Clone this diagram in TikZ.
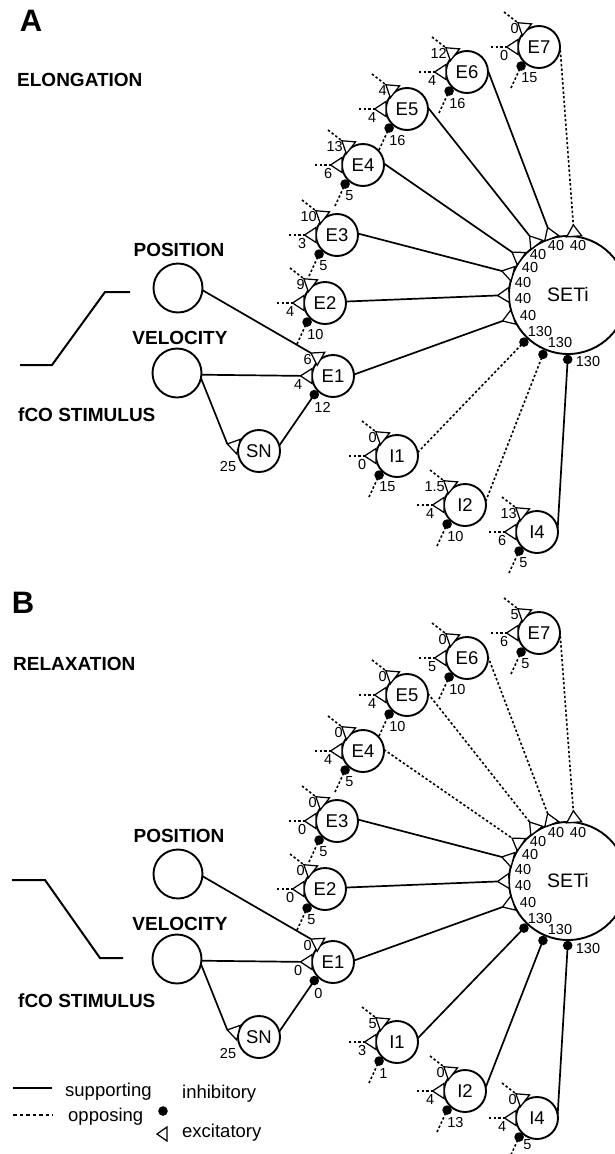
\documentclass[tikz,border=0pt]{standalone}
\usepackage{fontspec}
\setmainfont{Liberation Sans}
\usetikzlibrary{calc}
\tikzset{
  neuron/.style={circle, draw, line width=1.9pt, minimum size=42pt, inner sep=0pt, outer sep=0pt, font=\fontsize{18.5}{18.5}\selectfont},
  bign/.style={circle, draw, line width=1.9pt, minimum size=49pt, inner sep=0pt, outer sep=0pt},
  seti/.style={circle, draw, line width=1.9pt, minimum size=118pt, inner sep=0pt, outer sep=0pt, font=\fontsize{19.5}{19.5}\selectfont},
  supp/.style={line width=1.7pt},
  opp/.style={line width=1.6pt, dash pattern=on 2.4pt off 2.2pt},
  legdash/.style={line width=1.4pt, dash pattern=on 3.5pt off 3pt},
  tri/.style={draw, fill=white, line width=1.25pt, line join=miter},
  num/.style={font=\fontsize{14.5}{14.5}\selectfont, inner sep=0pt},
  heading/.style={font=\bfseries\fontsize{19}{19}\selectfont, inner sep=0pt},
  legtext/.style={font=\fontsize{18.5}{18.5}\selectfont, inner sep=0pt},
  panellab/.style={font=\bfseries\fontsize{31}{31}\selectfont, inner sep=0pt},
  trace/.style={line width=2pt, line join=miter},
}
\newcommand\dotoff{12}
\newcommand\dotoffx{0}
% excitatory synapse: name, base point, direction point
\newcommand\excsyn[3]{%
  \coordinate (#1-b) at #2;
  \coordinate (#1) at ($(#1-b)!11.5pt!#3$);
  \draw[tri] ($(#1-b)!7.5pt!90:#3$) -- (#1) -- ($(#1-b)!7.5pt!-90:#3$) -- cycle;}
% standard inputs of a small neuron: node, top, left, dot labels
\newcommand\stdsyn[4]{%
  \coordinate (#1-ts) at ($(#1)+(-35,-35)$);
  \coordinate (#1-ls) at ($(#1)+(-48,0)$);
  \coordinate (#1-ds) at ($(#1)+(-28,41)$);
  \excsyn{#1-t}{(#1.125)}{(#1-ts)}
  \draw[opp] (#1-ts) -- (#1-t);
  \excsyn{#1-l}{(#1.180)}{(#1-ls)}
  \draw[opp] (#1-ls) -- (#1-l);
  \coordinate (#1-d) at ($(#1.222)!5.5pt!(#1-ds)$);
  \draw[opp] (#1-ds) -- (#1-d);
  \fill (#1-d) circle (4.8pt);
  \node[num,anchor=east] (#1-tn) at ($(#1-t)+(1,6)$) {#2};
  \node[num,anchor=north east] (#1-ln) at ($(#1-l)+(2,3)$) {#3};
  \node[num,anchor=west] (#1-dn) at ($(#1-d)+(\dotoffx,\dotoff)$) {#4};}
% inputs of E1 and SN: prefix, top, left, dot labels
\newcommand\eonesyn[4]{%
  \excsyn{#1E1-t}{(#1E1.125)}{(#1POS.-5)}
  \draw[supp] (#1POS.-5) -- (#1E1-t);
  \excsyn{#1E1-l}{(#1E1.180)}{(#1VEL.-4)}
  \draw[supp] (#1VEL.-4) -- (#1E1-l);
  \coordinate (#1E1-d) at ($(#1E1.222)!5.5pt!(#1SN.15)$);
  \draw[supp] (#1SN.15) -- (#1E1-d);
  \fill (#1E1-d) circle (4.8pt);
  \node[num,anchor=east] (#1E1-tn) at ($(#1E1-t)+(1,6)$) {#2};
  \node[num,anchor=north east] (#1E1-ln) at ($(#1E1-l)+(2,3)$) {#3};
  \node[num,anchor=west] (#1E1-dn) at ($(#1E1-d)+(0,13)$) {#4};
  \coordinate (#1SN-src) at ($(#1SN)+(-60,-14)$);
  \excsyn{#1SN-l}{(#1SN.168)}{(#1SN-src)}
  \draw[supp] (#1VEL.-12) -- (#1SN-l);
  \node[num] (#1SN-ln) at ($(#1SN)+(-31,16)$) {25};}
% excitatory synapse onto SETi: prefix, source, angle, style, label position
\newcommand\setexc[5]{%
  \excsyn{#1SETi-#2}{(#1SETi.#3)}{(#1#2.4)}
  \draw[#4] (#1#2.4) -- (#1SETi-#2);
  \node[num] (#1SETi-#2n) at #5 {40};}
% inhibitory synapse onto SETi: prefix, source, angle, style, label position
\newcommand\setinh[5]{%
  \coordinate (#1SETi-#2) at ($(#1SETi.#3)!5.5pt!(#1#2.10)$);
  \draw[#4] (#1#2.10) -- (#1SETi-#2);
  \fill (#1SETi-#2) circle (4.8pt);
  \node[num] (#1SETi-#2n) at #5 {130};}
\newcommand\netnodes[1]{%
  \node[bign] (#1POS) at (178,288) {};
  \node[bign] (#1VEL) at (177,373) {};
  \node[neuron] (#1SN) at (259,451) {SN};
  \node[neuron] (#1E1) at (333,376) {E1};
  \node[neuron] (#1E2) at (325,303) {E2};
  \node[neuron] (#1E3) at (337,235) {E3};
  \node[neuron] (#1E4) at (363,165) {E4};
  \node[neuron] (#1E5) at (407,109) {E5};
  \node[neuron] (#1E6) at (467,72) {E6};
  \node[neuron] (#1E7) at (539,47) {E7};
  \node[neuron] (#1I1) at (397,456) {I1};
  \node[neuron] (#1I2) at (465,505) {I2};
  \node[neuron] (#1I4) at (537,532) {I4};
  \node[seti] (#1SETi) at (568,295) {SETi};
  \node[heading] (#1plab) at (179,250) {POSITION};
  \node[heading] (#1vlab) at (180,338) {VELOCITY};
  \node[heading,anchor=west] (#1slab) at (18,415) {fCO STIMULUS};}
\begin{document}
\begin{tikzpicture}[x=1pt,y=-1pt]
\useasboundingbox (0,0) rectangle (615,1154);
% ---------------- panel A
\node[panellab] (labA) at (31,21) {A};
\node[heading,anchor=west] (elong) at (17,80) {ELONGATION};
\draw[trace] (20,365) -- (52,365) -- (105,292) -- (130,292);
\netnodes{a}
\stdsyn{aE7}{0}{0}{15}
\stdsyn{aE6}{12}{4}{16}
\stdsyn{aE5}{4}{4}{16}
\stdsyn{aE4}{13}{6}{5}
\stdsyn{aE3}{10}{3}{5}
\stdsyn{aE2}{9}{4}{10}
\stdsyn{aI1}{0}{0}{15}
\stdsyn{aI2}{1.5}{4}{10}
\stdsyn{aI4}{13}{6}{5}
\eonesyn{a}{6}{4}{12}
\setexc{a}{E1}{202}{supp}{(528,316)}
\setexc{a}{E2}{180}{supp}{(523,299)}
\setexc{a}{E3}{159}{supp}{(523,283)}
\setexc{a}{E4}{142}{supp}{(530,268)}
\setexc{a}{E5}{122}{supp}{(538,255)}
\setexc{a}{E6}{106}{supp}{(556,246)}
\setexc{a}{E7}{84}{opp}{(578,246)}
\setinh{a}{I1}{227}{opp}{(540,332)}
\setinh{a}{I2}{247}{opp}{(560,343)}
\setinh{a}{I4}{270}{supp}{(588,362)}
% ---------------- panel B
\node[panellab] (labB) at (23,603) {B};
\node[heading,anchor=west] (relax) at (13,664) {RELAXATION};
\draw[trace] (12,880) -- (45,880) -- (100,958) -- (123,958);
\begin{scope}[shift={(0,586)}]
\netnodes{b}
\stdsyn{bE7}{5}{6}{5}
\stdsyn{bE6}{0}{5}{10}
\stdsyn{bE5}{0}{4}{10}
\stdsyn{bE4}{0}{4}{5}
\stdsyn{bE3}{0}{0}{5}
\stdsyn{bE2}{0}{0}{5}
\stdsyn{bI1}{5}{3}{1}
\stdsyn{bI2}{0}{4}{13}
\renewcommand\dotoff{8}
\renewcommand\dotoffx{4}
\stdsyn{bI4}{0}{4}{5}
\eonesyn{b}{0}{0}{0}
\setexc{b}{E1}{202}{supp}{(528,316)}
\setexc{b}{E2}{180}{supp}{(523,299)}
\setexc{b}{E3}{159}{supp}{(523,283)}
\setexc{b}{E4}{142}{opp}{(530,268)}
\setexc{b}{E5}{122}{opp}{(538,255)}
\setexc{b}{E6}{106}{opp}{(556,246)}
\setexc{b}{E7}{84}{opp}{(578,246)}
\setinh{b}{I1}{227}{supp}{(540,332)}
\setinh{b}{I2}{247}{supp}{(560,343)}
\setinh{b}{I4}{270}{supp}{(588,362)}
\end{scope}
% ---------------- legend
\coordinate (ls1) at (13,1088);
\coordinate (ls2) at (52,1088);
\coordinate (ld1) at (13,1115);
\coordinate (ld2) at (53,1115);
\draw[supp] (ls1) -- (ls2);
\draw[legdash] (ld1) -- (ld2);
\node[legtext,anchor=base west] (lsupp) at (65,1096) {supporting};
\node[legtext,anchor=base west] (lopp) at (68,1121) {opposing};
\node[legtext,anchor=base west] (linh) at (182,1098) {inhibitory};
\node[legtext,anchor=base west] (lexc) at (182,1137) {excitatory};
\fill (163,1111) circle (4.8pt);
\draw[tri] (167,1127) -- (157,1134) -- (167,1141) -- cycle;
\end{tikzpicture}
\end{document}
